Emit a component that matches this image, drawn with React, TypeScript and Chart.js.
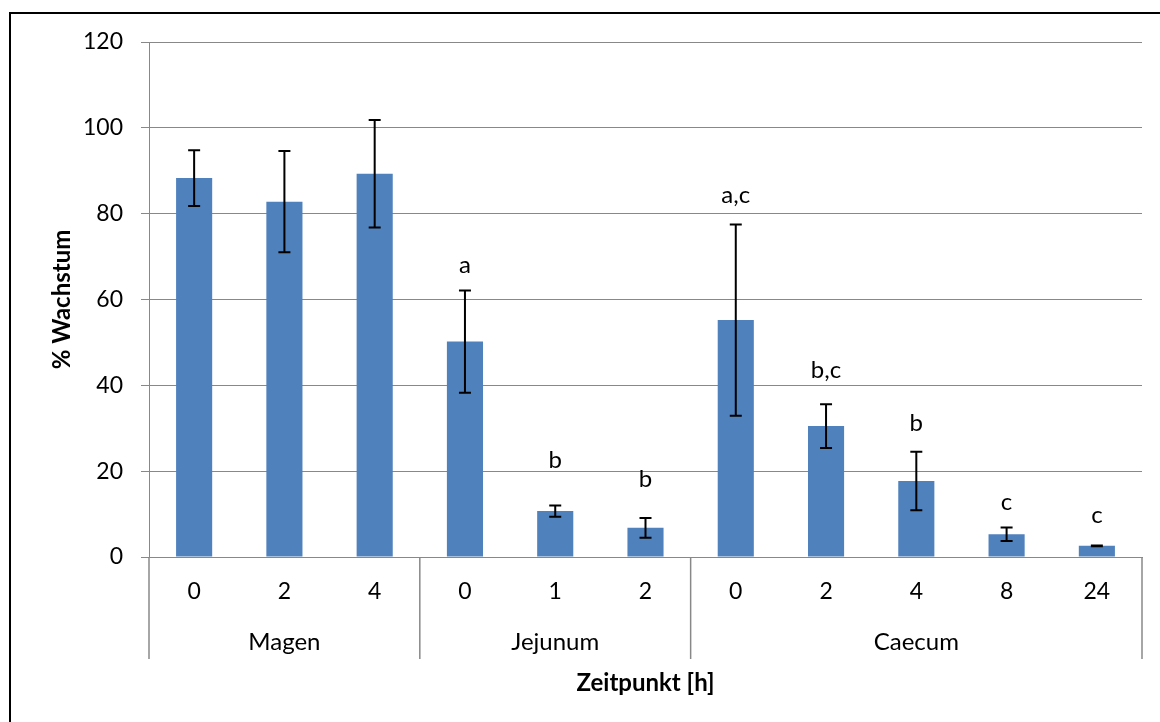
import React, { useEffect, useRef } from "react";
import { Chart, registerables } from "chart.js";

Chart.register(...registerables);

const timeLabels = ["0", "2", "4", "0", "1", "2", "0", "2", "4", "8", "24"];
const groupNames = ["Magen", "Jejunum", "Caecum"];
const groupSizes = [3, 3, 5];
const growthValues = [88.3, 82.8, 89.3, 50.2, 10.7, 6.8, 55.2, 30.5, 17.7, 5.3, 2.6];
const errorValues = [6.5, 11.8, 12.5, 11.9, 1.3, 2.3, 22.3, 5.1, 6.8, 1.6, 0.1];
const significanceLetters = ["", "", "", "a", "b", "b", "a,c", "b,c", "b", "c", "c"];
const letterLevels = [0, 0, 0, 68, 22.6, 18, 84.4, 43.6, 31.2, 12.8, 9.8];
const yMin = 0;
const yMax = 120;
const yStep = 20;
const xTitle = "Zeitpunkt [h]";
const yTitle = "% Wachstum";

const FONT = "Lato, 'Open Sans', sans-serif";
const GRID = "#888888";

const extrasPlugin = {
  id: "extras",
  afterDatasetsDraw(chart: any) {
    const ctx = chart.ctx;
    const ys = chart.scales.y;
    const meta = chart.getDatasetMeta(0);
    const area = chart.chartArea;
    ctx.save();
    // error bars
    ctx.strokeStyle = "#000";
    ctx.lineWidth = 2;
    growthValues.forEach((v, i) => {
      const x = meta.data[i].x;
      const yt = ys.getPixelForValue(v + errorValues[i]);
      const yb = ys.getPixelForValue(v - errorValues[i]);
      ctx.beginPath();
      ctx.moveTo(x, yt);
      ctx.lineTo(x, yb);
      ctx.moveTo(x - 6, yt);
      ctx.lineTo(x + 6, yt);
      ctx.moveTo(x - 6, yb);
      ctx.lineTo(x + 6, yb);
      ctx.stroke();
    });
    // significance letters
    ctx.fillStyle = "#000";
    ctx.font = `24px ${FONT}`;
    ctx.textAlign = "center";
    ctx.textBaseline = "middle";
    significanceLetters.forEach((t, i) => {
      if (!t) return;
      ctx.fillText(t, meta.data[i].x, ys.getPixelForValue(letterLevels[i]));
    });
    // group separators and names
    const catW = (area.right - area.left) / timeLabels.length;
    ctx.strokeStyle = GRID;
    ctx.lineWidth = 1.5;
    let start = 0;
    const bounds: number[] = [area.left];
    groupSizes.forEach((n) => {
      start += n;
      bounds.push(area.left + catW * start);
    });
    bounds.forEach((bx) => {
      ctx.beginPath();
      ctx.moveTo(bx, area.bottom);
      ctx.lineTo(bx, area.bottom + 102);
      ctx.stroke();
    });
    groupNames.forEach((g, i) => {
      ctx.fillText(g, (bounds[i] + bounds[i + 1]) / 2, area.bottom + 85);
    });
    // axis titles
    ctx.font = `bold 24px ${FONT}`;
    ctx.fillText(xTitle, (area.left + area.right) / 2, area.bottom + 126);
    ctx.translate(62, (area.top + area.bottom) / 2);
    ctx.rotate(-Math.PI / 2);
    ctx.fillText(yTitle, 0, 0);
    ctx.restore();
  },
};

export default function App() {
  const ref = useRef<HTMLCanvasElement>(null);
  useEffect(() => {
    if (!ref.current) return;
    const chart = new Chart(ref.current, {
      type: "bar",
      data: {
        labels: timeLabels,
        datasets: [
          {
            data: growthValues,
            backgroundColor: "#4F81BD",
            borderWidth: 0,
            barPercentage: 0.4,
            categoryPercentage: 1,
          },
        ],
      },
      options: {
        responsive: false,
        maintainAspectRatio: false,
        animation: false,
        devicePixelRatio: 1,
        layout: { padding: { left: 0, top: 42, right: 18, bottom: 0 } },
        plugins: { legend: { display: false }, tooltip: { enabled: false } },
        scales: {
          x: {
            grid: { display: false, drawTicks: false },
            border: { display: true, color: GRID, width: 1 },
            ticks: { color: "#000", font: { family: FONT, size: 23 }, padding: 21, maxRotation: 0, autoSkip: false },
            afterFit: (s: any) => {
              s.height = 165;
            },
          },
          y: {
            min: yMin,
            max: yMax,
            grid: { color: GRID, lineWidth: 1, tickLength: 8, tickColor: GRID },
            border: { display: true, color: GRID, width: 1 },
            ticks: { stepSize: yStep, color: "#000", font: { family: FONT, size: 23 }, padding: 18 },
            afterFit: (s: any) => {
              s.width = 149;
            },
          },
        },
      },
      plugins: [extrasPlugin],
    });
    return () => chart.destroy();
  }, []);
  return (
    <div style={{ position: "fixed", left: 0, top: 0, width: 1160, height: 722, overflow: "hidden", background: "#fff" }}>
      <canvas ref={ref} width={1160} height={722} style={{ position: "absolute", left: 0, top: 0 }} />
      <div
        style={{
          position: "absolute",
          left: 9,
          top: 12,
          width: 1300,
          height: 900,
          border: "2px solid #000",
          pointerEvents: "none",
        }}
      />
    </div>
  );
}
